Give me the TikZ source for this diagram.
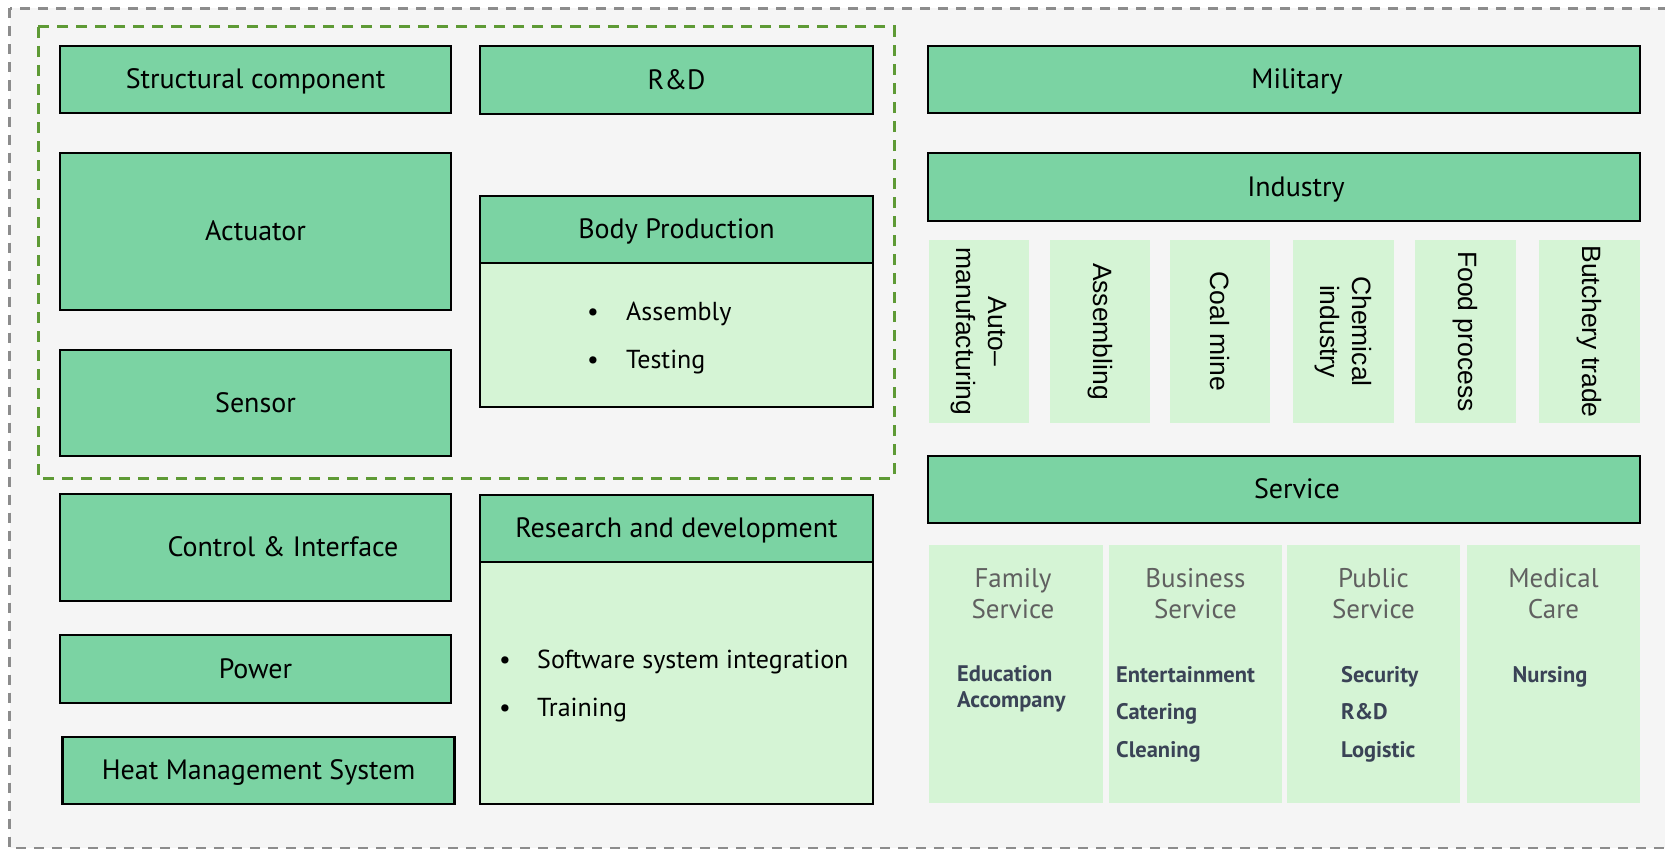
\documentclass[tikz,border=0pt]{standalone}
\usepackage{fontspec}
\setmainfont{PT Sans}
\newfontfamily\arialf{Liberation Sans}
\definecolor{dg}{HTML}{7BD3A3}
\definecolor{lg}{HTML}{D5F4D5}
\definecolor{bgc}{HTML}{F5F5F5}
\definecolor{framegray}{HTML}{8C8C8C}
\definecolor{dashgreen}{HTML}{5E9A35}
\definecolor{hdrgray}{HTML}{606060}
\definecolor{itemc}{HTML}{3A4356}
\begin{document}
\begin{tikzpicture}[x=1pt,y=-1pt,
  dbox/.style={draw=black, line width=2.8pt, fill=dg, inner sep=0pt, text height=18pt, text depth=0pt, font=\fontsize{28}{32}\selectfont},
  bodybox/.style={draw=black, line width=2.8pt, fill=lg, inner sep=0pt},
  lbox/.style={fill=lg, draw=none, inner sep=0pt},
  rotlabel/.style={rotate=-90, align=center, inner sep=0pt, font=\arialf\fontsize{26.5}{32}\selectfont},
  bullettext/.style={anchor=base west, inner sep=0pt, font=\fontsize{26}{30}\selectfont},
  bulletmark/.style={anchor=base, inner sep=0pt, font=\fontsize{26}{30}\selectfont},
  svchead/.style={anchor=base, inner sep=0pt, text=hdrgray, font=\fontsize{27}{31}\selectfont},
  svcitem/.style={anchor=base west, inner sep=0pt, text=itemc, font=\bfseries\fontsize{22.5}{26}\selectfont},
  outerframe/.style={draw=framegray, fill=bgc, line width=2.5pt, dash pattern=on 10pt off 8pt},
  groupframe/.style={draw=dashgreen, line width=3pt, dash pattern=on 11pt off 8pt}
]
\useasboundingbox (0,0) rectangle (1665,851);
\begin{scope}
  \clip (0,0) rectangle (1665,851);
  \draw[outerframe] (9.5,8.5) rectangle (1700,848);
\end{scope}
\draw[groupframe] (38,27) rectangle (894,478);

% left column
\node[dbox, minimum width=391pt, minimum height=67pt] (struct) at (255.5,79.5) {Structural component};
\node[dbox, minimum width=391pt, minimum height=157pt] (act) at (255.5,231.5) {Actuator};
\node[dbox, minimum width=391pt, minimum height=106pt] (sensor) at (255.5,403) {Sensor};
\node[dbox, minimum width=391pt, minimum height=107pt] (ctrl) at (255.5,547.5) {\hspace*{55pt}Control \& Interface};
\node[dbox, minimum width=391pt, minimum height=68pt] (power) at (255.5,669) {Power};
\node[dbox, minimum width=392pt, minimum height=67pt] (heat) at (258.6,770.5) {Heat Management System};

% middle column
\node[dbox, minimum width=393pt, minimum height=68pt] (rd) at (676.5,80) {R\&D};
\node[bodybox, minimum width=393pt, minimum height=144pt] (bpbody) at (676.5,335) {};
\node[dbox, minimum width=393pt, minimum height=67pt] (bphead) at (676.5,229.5) {Body Production};
\node[bulletmark] (b1) at (593,320) {\textbullet};
\node[bullettext] (b1t) at (626,320) {Assembly};
\node[bulletmark] (b2) at (593,368.5) {\textbullet};
\node[bullettext] (b2t) at (626,368.5) {Testing};

\node[bodybox, minimum width=393pt, minimum height=242pt] (rdbody) at (676.5,683) {};
\node[dbox, minimum width=393pt, minimum height=67pt] (rdhead) at (676.5,528.5) {Research and development};
\node[bulletmark] (b3) at (505,668) {\textbullet};
\node[bullettext] (b3t) at (537,668) {Software system integration};
\node[bulletmark] (b4) at (505,716) {\textbullet};
\node[bullettext] (b4t) at (537,716) {Training};

% right side
\node[dbox, minimum width=712pt, minimum height=67pt] (mil) at (1284,79.5) {\hspace*{26pt}Military};
\node[dbox, minimum width=712pt, minimum height=68pt] (ind) at (1284,187) {\hspace*{24pt}Industry};

\node[lbox, minimum width=100pt, minimum height=183pt] (i1) at (979,331.5) {};
\node[lbox, minimum width=100pt, minimum height=183pt] (i2) at (1100,331.5) {};
\node[lbox, minimum width=100pt, minimum height=183pt] (i3) at (1220,331.5) {};
\node[lbox, minimum width=101pt, minimum height=183pt] (i4) at (1343.5,331.5) {};
\node[lbox, minimum width=101pt, minimum height=183pt] (i5) at (1465.5,331.5) {};
\node[lbox, minimum width=101pt, minimum height=183pt] (i6) at (1589.5,331.5) {};
\node[rotlabel] (i1t) at (i1.center) {Auto–\\manufacturing};
\node[rotlabel] (i2t) at (i2.center) {Assembling};
\node[rotlabel] (i3t) at (i3.center) {Coal mine};
\node[rotlabel] (i4t) at (i4.center) {Chemical\\industry};
\node[rotlabel] (i5t) at (i5.center) {Food process};
\node[rotlabel] (i6t) at (i6.center) {Butchery trade};

\node[dbox, minimum width=712pt, minimum height=67pt] (svc) at (1284,489.5) {\hspace*{26pt}Service};

\node[lbox, minimum width=173.7pt, minimum height=258pt] (s1) at (1015.9,674) {};
\node[lbox, minimum width=173pt, minimum height=258pt] (s2) at (1195.5,674) {};
\node[lbox, minimum width=173pt, minimum height=258pt] (s3) at (1373.5,674) {};
\node[lbox, minimum width=173pt, minimum height=258pt] (s4) at (1553.5,674) {};

\node[svchead] (s1h1) at (1013,587) {Family};
\node[svchead] (s1h2) at (1013,618) {Service};
\node[svchead] (s2h1) at (1195.5,587) {Business};
\node[svchead] (s2h2) at (1195.5,618) {Service};
\node[svchead] (s3h1) at (1373.5,587) {Public};
\node[svchead] (s3h2) at (1373.5,618) {Service};
\node[svchead] (s4h1) at (1553.5,587) {Medical};
\node[svchead] (s4h2) at (1553.5,618) {Care};

\node[svcitem] (e1) at (957,681) {Education};
\node[svcitem] (e2) at (957,707) {Accompany};
\node[svcitem] (f1) at (1116,682) {Entertainment};
\node[svcitem] (f2) at (1116,719) {Catering};
\node[svcitem] (f3) at (1116,757) {Cleaning};
\node[svcitem] (g1) at (1341,682) {Security};
\node[svcitem] (g2) at (1341,719) {R\&D};
\node[svcitem] (g3) at (1341,757) {Logistic};
\node[svcitem, anchor=base] (h1) at (1550,682) {Nursing};
\end{tikzpicture}
\end{document}
